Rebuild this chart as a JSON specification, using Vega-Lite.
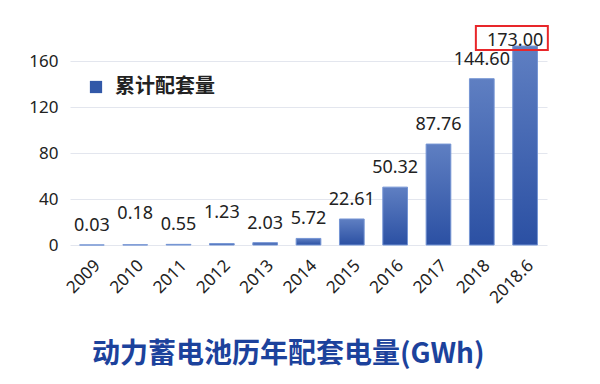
{
  "$schema": "https://vega.github.io/schema/vega-lite/v6.json",
  "width": 477,
  "height": 207,
  "autosize": {"type": "none"},
  "padding": {"left": 70, "top": 38, "right": 53, "bottom": 139},
  "background": "white",
  "config": {
    "view": {"stroke": null},
    "font": "Noto Sans"
  },
  "title": {
    "text": "动力蓄电池历年配套电量(GWh)",
    "orient": "bottom",
    "anchor": "start",
    "frame": "group",
    "dx": 22,
    "offset": 35,
    "font": "Noto Sans CJK SC",
    "fontSize": 28,
    "fontWeight": "bold",
    "color": "#1c429c"
  },
  "datasets": {
    "main": [
      {"year": "2009", "value": 0.03, "label": "0.03"},
      {"year": "2010", "value": 0.18, "label": "0.18"},
      {"year": "2011", "value": 0.55, "label": "0.55"},
      {"year": "2012", "value": 1.23, "label": "1.23"},
      {"year": "2013", "value": 2.03, "label": "2.03"},
      {"year": "2014", "value": 5.72, "label": "5.72"},
      {"year": "2015", "value": 22.61, "label": "22.61"},
      {"year": "2016", "value": 50.32, "label": "50.32"},
      {"year": "2017", "value": 87.76, "label": "87.76"},
      {"year": "2018", "value": 144.6, "label": "144.60"},
      {"year": "2018.6", "value": 173.0, "label": "173.00"}
    ],
    "highlight": [
      {"from": "2018", "to": "2018.6", "lo": 169.6, "hi": 190.4}
    ]
  },
  "data": {"name": "main"},
  "encoding": {
    "x": {
      "field": "year",
      "type": "ordinal",
      "sort": null,
      "scale": {"paddingInner": 0.43, "paddingOuter": 0.22},
      "axis": {
        "title": null,
        "labelAngle": -45,
        "labelFontSize": 17,
        "labelColor": "#222222",
        "labelFont": "Noto Sans",
        "ticks": false,
        "domain": false,
        "labelPadding": 12
      }
    },
    "y": {
      "field": "value",
      "type": "quantitative",
      "scale": {"domain": [0, 180], "nice": false},
      "axis": {
        "title": null,
        "values": [0, 40, 80, 120, 160],
        "labelFontSize": 17,
        "labelColor": "#222222",
        "labelFont": "Noto Sans",
        "ticks": false,
        "domain": false,
        "labelPadding": 12,
        "gridColor": "#e3e6ee",
        "gridWidth": 1
      }
    }
  },
  "layer": [
    {
      "mark": {"type": "bar", "opacity": 0},
      "encoding": {
        "fill": {
          "datum": "累计配套量",
          "scale": {"range": ["#3258a8"]},
          "legend": {
            "title": null,
            "orient": "none",
            "legendX": 16,
            "legendY": 39,
            "symbolType": "square",
            "symbolSize": 150,
            "symbolOpacity": 1,
            "labelFontSize": 20,
            "labelFont": "Noto Sans CJK SC",
            "labelFontWeight": "bold",
            "labelColor": "#222222",
            "labelOffset": 9
          }
        }
      }
    },
    {
      "mark": {
        "type": "bar",
        "stroke": "#7595d4",
        "strokeWidth": 1,
        "color": {
          "gradient": "linear",
          "x1": 0, "y1": 0, "x2": 0, "y2": 1,
          "stops": [
            {"offset": 0, "color": "#5f7fc2"},
            {"offset": 1, "color": "#2b50a3"}
          ]
        }
      }
    },
    {
      "transform": [{"filter": "indexof(['2010','2012','2018.6'], datum.year) < 0"}],
      "mark": {
        "type": "text",
        "baseline": "alphabetic",
        "dy": -14,
        "fontSize": 18,
        "color": "#222222",
        "font": "Noto Sans"
      },
      "encoding": {"text": {"field": "label"}}
    },
    {
      "transform": [{"filter": "indexof(['2010','2012'], datum.year) >= 0"}],
      "mark": {
        "type": "text",
        "baseline": "alphabetic",
        "dy": -26,
        "fontSize": 18,
        "color": "#222222",
        "font": "Noto Sans"
      },
      "encoding": {"text": {"field": "label"}}
    },
    {
      "transform": [{"filter": "datum.year === '2018.6'"}],
      "mark": {
        "type": "text",
        "baseline": "alphabetic",
        "dy": 0,
        "dx": -10,
        "fontSize": 18,
        "color": "#222222",
        "font": "Noto Sans"
      },
      "encoding": {"text": {"field": "label"}}
    },
    {
      "data": {"name": "highlight"},
      "mark": {"type": "rect", "fill": null, "stroke": "#e8262a", "strokeWidth": 2},
      "encoding": {
        "x": {"field": "from", "type": "ordinal", "bandPosition": 0.26},
        "x2": {"field": "to", "bandPosition": 1.42},
        "y": {"field": "lo", "type": "quantitative"},
        "y2": {"field": "hi"}
      }
    }
  ]
}
